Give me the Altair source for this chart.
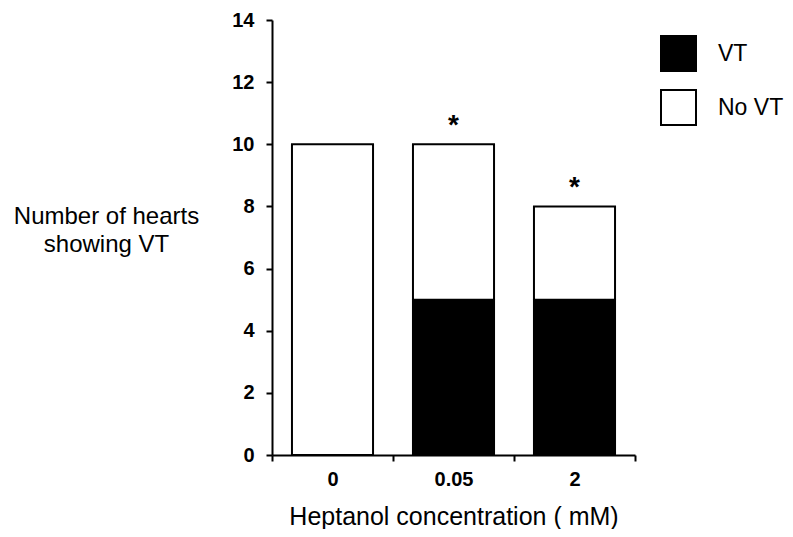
import altair as alt
import pandas as pd

concentrations = ["0", "0.05", "2"]
vt_counts = [0, 5, 5]
no_vt_counts = [10, 5, 3]
significant = [False, True, True]
groups = ["VT", "No VT"]
y_ticks = [0, 2, 4, 6, 8, 10, 12, 14]

FONT = "Liberation Sans"

rows = []
for c, v, n in zip(concentrations, vt_counts, no_vt_counts):
    rows.append({"conc": c, "group": "VT", "count": v, "order": 0})
    rows.append({"conc": c, "group": "No VT", "count": n, "order": 1})
df = pd.DataFrame(rows)
df = df[df["count"] > 0]

star_df = pd.DataFrame({
    "conc": concentrations,
    "total": [v + n for v, n in zip(vt_counts, no_vt_counts)],
    "sig": significant,
})
star_df = star_df[star_df["sig"]]

x_enc = alt.X(
    "conc:N",
    sort=concentrations,
    scale=alt.Scale(paddingInner=0, paddingOuter=0),
    axis=alt.Axis(
        title="Heptanol concentration ( mM)",
        labelAngle=0,
        tickBand="extent",
        labelFont=FONT, labelFontSize=20, labelFontWeight="bold", labelColor="black",
        labelPadding=8,
        tickSize=6, tickWidth=2, tickColor="black",
        domainWidth=2, domainColor="black",
        titleFont=FONT, titleFontSize=25, titleFontWeight="normal", titleColor="black",
        titleBaseline="alphabetic", titleY=69,
    ),
)

y_enc = alt.Y(
    "count:Q",
    stack="zero",
    scale=alt.Scale(domain=[0, 14], nice=False),
    axis=alt.Axis(
        values=y_ticks, format="d", grid=False,
        title=["Number of hearts", "showing VT"],
        titleAngle=0, titleAlign="center", titleBaseline="middle",
        titleX=-166, titleY=196, titleLineHeight=28,
        titleFont=FONT, titleFontSize=24, titleFontWeight="normal", titleColor="black",
        labelFont=FONT, labelFontSize=20, labelFontWeight="bold", labelColor="black",
        labelPadding=12,
        tickSize=6, tickWidth=2, tickColor="black",
        domainWidth=2, domainColor="black",
    ),
)

bars = alt.Chart(df).mark_bar(
    width=alt.RelativeBandSize(0.67), stroke="black", strokeWidth=2, fillOpacity=1
).encode(
    x=x_enc,
    y=y_enc,
    order=alt.Order("order:Q"),
    fill=alt.Fill(
        "group:N",
        sort=groups,
        scale=alt.Scale(domain=groups, range=["black", "white"]),
        legend=alt.Legend(
            title=None, orient="none", legendX=388, legendY=15,
            symbolType="square", symbolSize=1225,
            symbolStrokeColor="black", symbolStrokeWidth=2, symbolOpacity=1,
            labelFont=FONT, labelFontSize=23, labelColor="black",
            labelOffset=21, rowPadding=11, padding=0,
        ),
    ),
)

stars = alt.Chart(star_df).mark_text(
    text="*", font=FONT, fontSize=28, fontWeight="bold", color="black",
    baseline="alphabetic", dy=-10,
).encode(
    x=alt.X("conc:N", sort=concentrations),
    y=alt.Y("total:Q"),
)

chart = alt.layer(bars, stars).properties(
    width=363, height=435,
    autosize="none",
    padding={"left": 264, "top": 12, "right": 150, "bottom": 74},
).configure_view(stroke=None)

chart.save("out.html", embed_options={"renderer": "svg", "actions": False})
